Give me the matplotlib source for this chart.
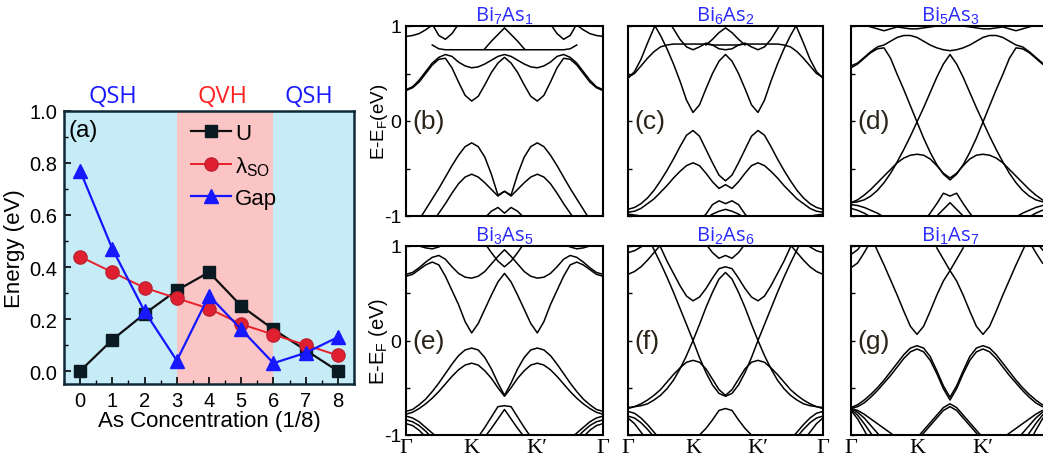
import numpy as np
import matplotlib
matplotlib.use('Agg')
from matplotlib import pyplot as plt

plt.rcParams['font.family'] = ['Liberation Sans', 'DejaVu Sans']
plt.rcParams['mathtext.fontset'] = 'custom'
plt.rcParams['mathtext.rm'] = 'Liberation Sans'
plt.rcParams['mathtext.it'] = 'Liberation Sans'

N = np.nan

# panel (a)
conc = [0, 1, 2, 3, 4, 5, 6, 7, 8]
U = [0.00, 0.12, 0.22, 0.31, 0.38, 0.25, 0.16, 0.08, 0.00]
lam_so = [0.44, 0.38, 0.32, 0.28, 0.24, 0.18, 0.14, 0.10, 0.06]
gap = [0.77, 0.47, 0.23, 0.04, 0.29, 0.16, 0.03, 0.07, 0.13]

# band structures: energies on the half path Gamma -> K -> mid(K,K'),
# the second half of the path is the mirror image
k_half = [0.0, 0.1, 0.2, 0.3, 0.4, 0.5, 0.6, 0.7, 0.8, 0.9, 1.0, 1.1, 1.2, 1.3, 1.4, 1.5]

bands_b = [
    [0.32, 0.35, 0.41, 0.50, 0.59, 0.65, 0.66, 0.56, 0.41, 0.27, 0.21, 0.26, 0.38, 0.51, 0.61, 0.67],
    [0.33, 0.36, 0.43, 0.52, 0.61, 0.67, 0.70, 0.68, 0.62, 0.58, 0.56, 0.57, 0.60, 0.64, 0.68, 0.70],
    [N, N, N, N, 0.80, 0.76, 0.75, 0.75, 0.75, 0.75, 0.75, 0.75, 0.75, 0.75, 0.75, 0.75],
    [N, N, N, N, N, N, N, N, N, N, N, N, 0.76, 0.84, 0.91, 0.98],
    [N, N, N, N, 1.02, 0.90, 0.86, 0.92, 1.02, N, N, N, N, N, N, N],
    [0.89, 0.90, 0.92, 0.96, 1.01, N, N, N, N, N, N, N, N, N, N, N],
    [-1.15, -1.12, -1.04, -0.93, -0.82, -0.71, -0.59, -0.47, -0.36, -0.27, -0.23, -0.27, -0.38, -0.56, -0.78, -0.74],
    [N, N, N, N, -1.07, -0.97, -0.87, -0.76, -0.66, -0.59, -0.56, -0.59, -0.65, -0.72, -0.79, -0.74],
    [N, N, N, N, N, N, N, N, N, N, N, -1.10, -1.02, -0.95, -0.91, -0.97],
]
bands_c = [
    [N, N, N, 1.15, 1.02, 0.90, 0.76, 0.60, 0.42, 0.22, 0.09, 0.17, 0.34, 0.50, 0.63, 0.70],
    [0.45, 0.52, 0.65, 0.82, 0.98, 1.12, N, N, N, N, N, N, N, N, N, N],
    [0.46, 0.50, 0.58, 0.66, 0.73, 0.78, 0.80, 0.81, 0.81, 0.81, 0.81, 0.81, 0.81, 0.80, 0.80, 0.80],
    [N, N, N, N, N, N, 1.08, 0.97, 0.86, 0.78, 0.75, 0.78, 0.82, 0.80, 0.76, 0.75],
    [N, N, N, N, N, N, N, N, N, N, N, N, 0.80, 0.86, 0.93, 0.98],
    [-0.93, -0.91, -0.87, -0.81, -0.73, -0.63, -0.52, -0.40, -0.27, -0.15, -0.10, -0.16, -0.30, -0.44, -0.57, -0.63],
    [-0.96, -0.95, -0.92, -0.87, -0.82, -0.75, -0.68, -0.60, -0.53, -0.47, -0.44, -0.47, -0.55, -0.64, -0.71, -0.67],
    [N, N, N, N, N, N, N, N, N, N, N, -1.05, -0.98, -0.88, -0.84, -0.87],
    [N, N, N, N, N, N, N, N, N, N, N, N, -1.02, -0.98, -0.95, -0.93],
    [-0.98, -0.99, -1.00, -1.02, N, N, N, N, N, N, N, N, N, N, N, N],
]
bands_d = [
    [0.56, 0.60, 0.66, 0.72, 0.76, 0.77, 0.66, 0.49, 0.33, 0.16, -0.01, -0.18, -0.33, -0.46, -0.56, -0.62],
    [-0.86, -0.85, -0.83, -0.79, -0.73, -0.65, -0.55, -0.43, -0.30, -0.16, -0.01, 0.14, 0.30, 0.46, 0.60, 0.70],
    [-0.86, -0.83, -0.78, -0.72, -0.65, -0.58, -0.51, -0.44, -0.39, -0.36, -0.35, -0.36, -0.40, -0.47, -0.55, -0.60],
    [0.58, 0.61, 0.67, 0.73, 0.78, 0.80, 0.84, 0.88, 0.90, 0.90, 0.88, 0.84, 0.80, 0.77, 0.75, 0.74],
    [1.05, 1.03, 1.01, 0.99, 0.97, 0.95, 0.97, 0.99, 0.98, 0.97, 0.97, 0.98, 0.99, 1.00, 1.02, 1.03],
    [N, N, N, N, N, N, N, N, N, N, N, -1.06, -0.97, -0.87, -0.76, -0.79],
    [N, N, N, N, N, N, N, N, N, N, N, N, N, -1.00, -0.93, -0.86],
    [-0.88, -0.89, -0.91, -0.94, -0.97, -1.01, N, N, N, N, N, N, N, N, N, N],
    [-0.92, -0.94, -0.97, -1.01, N, N, N, N, N, N, N, N, N, N, N, N],
]
bands_e = [
    [0.68, 0.70, 0.75, 0.80, 0.83, 0.80, 0.68, 0.53, 0.38, 0.20, 0.08, 0.18, 0.33, 0.48, 0.62, 0.71],
    [0.70, 0.72, 0.77, 0.83, 0.88, 0.90, 0.86, 0.78, 0.71, 0.67, 0.66, 0.68, 0.73, 0.81, 0.89, 0.96],
    [N, N, N, N, N, N, N, N, N, N, N, N, 1.03, 0.93, 0.84, 0.78],
    [1.05, 1.03, 1.00, 0.98, 0.97, 0.99, 1.02, N, N, N, N, N, N, N, N, N],
    [-0.75, -0.73, -0.68, -0.62, -0.54, -0.45, -0.35, -0.25, -0.16, -0.10, -0.08, -0.10, -0.18, -0.30, -0.45, -0.58],
    [-0.78, -0.76, -0.72, -0.67, -0.61, -0.54, -0.46, -0.38, -0.31, -0.26, -0.24, -0.26, -0.32, -0.40, -0.50, -0.59],
    [N, N, N, N, N, N, N, N, N, N, N, -1.02, -0.92, -0.81, -0.70, -0.69],
    [N, N, N, N, N, N, N, N, N, N, N, N, -1.02, -0.93, -0.83, -0.73],
    [-0.80, -0.82, -0.86, -0.92, -0.98, -1.04, N, N, N, N, N, N, N, N, N, N],
    [-0.84, -0.86, -0.90, -0.96, -1.03, N, N, N, N, N, N, N, N, N, N, N],
    [-0.88, -0.90, -0.95, -1.02, N, N, N, N, N, N, N, N, N, N, N, N],
]
bands_f = [
    [N, N, N, N, 1.12, 0.99, 0.84, 0.71, 0.58, 0.47, 0.42, 0.46, 0.55, 0.66, 0.76, 0.78],
    [N, N, N, 1.10, 0.96, 0.82, 0.67, 0.51, 0.34, 0.17, 0.00, -0.18, -0.34, -0.47, -0.56, -0.59],
    [-0.71, -0.70, -0.69, -0.67, -0.63, -0.58, -0.51, -0.42, -0.30, -0.16, 0.00, 0.17, 0.35, 0.51, 0.65, 0.72],
    [-0.72, -0.70, -0.67, -0.63, -0.58, -0.52, -0.44, -0.36, -0.29, -0.23, -0.21, -0.23, -0.30, -0.41, -0.52, -0.58],
    [N, N, N, N, N, N, N, N, N, N, N, -1.00, -0.93, -0.84, -0.74, -0.72],
    [0.70, 0.73, 0.78, 0.85, 0.93, 1.01, N, N, N, N, N, N, N, N, N, N],
    [0.93, 0.95, 0.99, 1.03, N, N, N, N, N, N, N, N, N, N, N, N],
    [N, N, N, N, N, N, N, N, N, N, N, N, 1.02, 0.93, 0.87, 0.90],
    [-0.75, -0.77, -0.82, -0.89, -0.97, -1.05, N, N, N, N, N, N, N, N, N, N],
    [-0.80, -0.82, -0.87, -0.94, -1.02, N, N, N, N, N, N, N, N, N, N, N],
    [-0.82, -0.88, -0.97, -1.06, N, N, N, N, N, N, N, N, N, N, N, N],
]
bands_g = [
    [N, N, N, 1.10, 0.95, 0.80, 0.64, 0.48, 0.31, 0.15, 0.065, 0.15, 0.31, 0.48, 0.63, 0.74],
    [N, N, N, N, N, N, N, N, N, N, N, N, N, 0.98, 0.86, 0.74],
    [0.77, 0.82, 0.93, 1.05, N, N, N, N, N, N, N, N, N, N, N, N],
    [0.91, 0.96, 1.05, N, N, N, N, N, N, N, N, N, N, N, N, N],
    [-0.71, -0.68, -0.63, -0.57, -0.50, -0.42, -0.33, -0.24, -0.15, -0.08, -0.055, -0.08, -0.17, -0.32, -0.48, -0.60],
    [-0.72, -0.70, -0.66, -0.60, -0.53, -0.45, -0.37, -0.28, -0.19, -0.12, -0.09, -0.12, -0.21, -0.35, -0.51, -0.63],
    [N, N, N, N, N, N, N, N, N, N, -1.03, -0.95, -0.87, -0.79, -0.71, -0.67],
    [N, N, N, N, N, N, N, N, N, N, -1.06, -0.98, -0.90, -0.82, -0.74, -0.70],
    [-0.72, -0.76, -0.82, -0.90, -0.98, -1.06, N, N, N, N, N, N, N, N, N, N],
    [-0.73, -0.79, -0.88, -0.98, -1.08, N, N, N, N, N, N, N, N, N, N, N],
    [-0.74, -0.83, -0.95, -1.08, N, N, N, N, N, N, N, N, N, N, N, N],
    [-0.72, -0.74, -0.78, -0.83, -0.88, -0.93, -0.98, -1.03, N, N, N, N, N, N, N, N],
]

titles = ['Bi$_7$As$_1$', 'Bi$_6$As$_2$', 'Bi$_5$As$_3$',
          'Bi$_3$As$_5$', 'Bi$_2$As$_6$', 'Bi$_1$As$_7$']
letters = ['(b)', '(c)', '(d)', '(e)', '(f)', '(g)']
kpath_labels = ['Γ', 'K', 'K′', 'Γ']

W, H = 1043, 464
fig = plt.figure(figsize=(W / 100, H / 100), dpi=100)


def box(x0, y0, x1, y1):
    # pixel box (top-left origin) -> figure fraction
    return [x0 / W, 1 - y1 / H, (x1 - x0) / W, (y1 - y0) / H]


sans2 = ['Open Sans', 'DejaVu Sans']

# ---- panel (a)
ax = fig.add_axes(box(64, 112, 354, 385))
ax.axvspan(-0.5, 3, color='#c6ecf8', lw=0)
ax.axvspan(3, 6, color='#fcc5c5', lw=0)
ax.axvspan(6, 8.5, color='#c6ecf8', lw=0)
ax.plot(conc, U, '-s', color='#101010', mfc='#0a1a22', mec='#0a1a22', ms=8.5, lw=1.6, label='U')
ax.plot(conc, lam_so, '-o', color='#e8202a', mfc='#e02030', mec='#c02030', ms=9.5, lw=1.4,
        label='λ$_\\mathregular{SO}$')
ax.plot(conc, gap, '-^', color='#1515ff', mfc='#1818ff', mec='#1818ff', ms=10.5, lw=1.6, label='Gap')
ax.set_xlim(-0.5, 8.5)
ax.set_ylim(-0.05, 1.0)
ax.set_xticks(range(9))
ax.set_xticks(np.arange(-0.5, 8.6, 0.5), minor=True)
ax.set_yticks([0, 0.2, 0.4, 0.6, 0.8, 1.0])
ax.set_yticklabels(['0.0', '0.2', '0.4', '0.6', '0.8', '1.0'])
ax.set_yticks(np.arange(0, 1.01, 0.1), minor=True)
ax.tick_params(which='both', direction='in', labelsize=14.5, top=False, right=False)
ax.tick_params(which='major', length=5, width=1.2, pad=5)
ax.tick_params(which='minor', length=3, width=1)
for s in ax.spines.values():
    s.set_linewidth(1.8)
    s.set_color('#0f2a35')
ax.set_ylabel('Energy (eV)', fontsize=16, labelpad=3)
ax.set_xlabel('As Concentration (1/8)', fontsize=16, labelpad=0)
ax.text(-0.36, 0.925, '(a)', fontsize=17.5, va='center')
ax.legend(loc='upper left', bbox_to_anchor=(0.395, 1.0), frameon=False, fontsize=16,
          handlelength=1.8, handletextpad=0.2, labelspacing=0.45, borderaxespad=0.15)
tr = ax.get_xaxis_transform()
ax.text(1.03, 1.055, 'QSH', color='#1a1aff', fontsize=17, ha='center', va='center', transform=tr,
        family=sans2)
ax.text(4.42, 1.055, 'QVH', color='#ff2020', fontsize=17, ha='center', va='center', transform=tr,
        family=sans2)
ax.text(7.1, 1.055, 'QSH', color='#1a1aff', fontsize=17, ha='center', va='center', transform=tr,
        family=sans2)

# ---- band panels
k_full = k_half + [3 - k for k in k_half[-2::-1]]
all_bands = [bands_b, bands_c, bands_d, bands_e, bands_f, bands_g]
xs = [(406, 603), (628, 823), (851, 1049)]
ys = [(27, 217), (247, 436)]

for i, bands in enumerate(all_bands):
    row, col = divmod(i, 3)
    x0, x1 = xs[col]
    y0, y1 = ys[row]
    bx = fig.add_axes(box(x0, y0, x1, y1))
    for e in bands:
        bx.plot(k_full, list(e) + list(e[-2::-1]), color='black', lw=1.1)
    bx.set_xlim(0, 3)
    bx.set_ylim(-1, 1)
    bx.set_yticks([-1, 0, 1])
    bx.set_yticks([-0.5, 0.5], minor=True)
    bx.set_xticks([0, 1, 2, 3])
    bx.tick_params(which='both', direction='in', length=3, width=1, labelsize=14)
    if col == 0:
        bx.set_yticklabels(['-1', '0', '1'])
    else:
        bx.set_yticklabels([])
    if row == 1:
        bx.set_xticklabels(kpath_labels, family=['Liberation Serif', 'DejaVu Serif'], fontsize=16)
        bx.tick_params(axis='x', length=0, pad=2)
    else:
        bx.set_xticklabels([])
        bx.tick_params(axis='x', length=0)
    for s in bx.spines.values():
        s.set_linewidth(1.5)
    bx.set_title(titles[i], color='#2a2aff', fontsize=14.5, pad=0.5, family=sans2)
    bx.text(0.1, 0.0, letters[i], fontsize=19, va='center', color='#2a2418')

fig.text(380 / W, 1 - 122 / H, 'E-E$_\\mathregular{F}$(eV)', rotation=90, fontsize=13.5,
         ha='center', va='center')
fig.text(379 / W, 1 - 341 / H, 'E-E$_\\mathregular{F}$ (eV)', rotation=90, fontsize=14.5,
         ha='center', va='center')

fig.savefig('out.png', dpi=100)
